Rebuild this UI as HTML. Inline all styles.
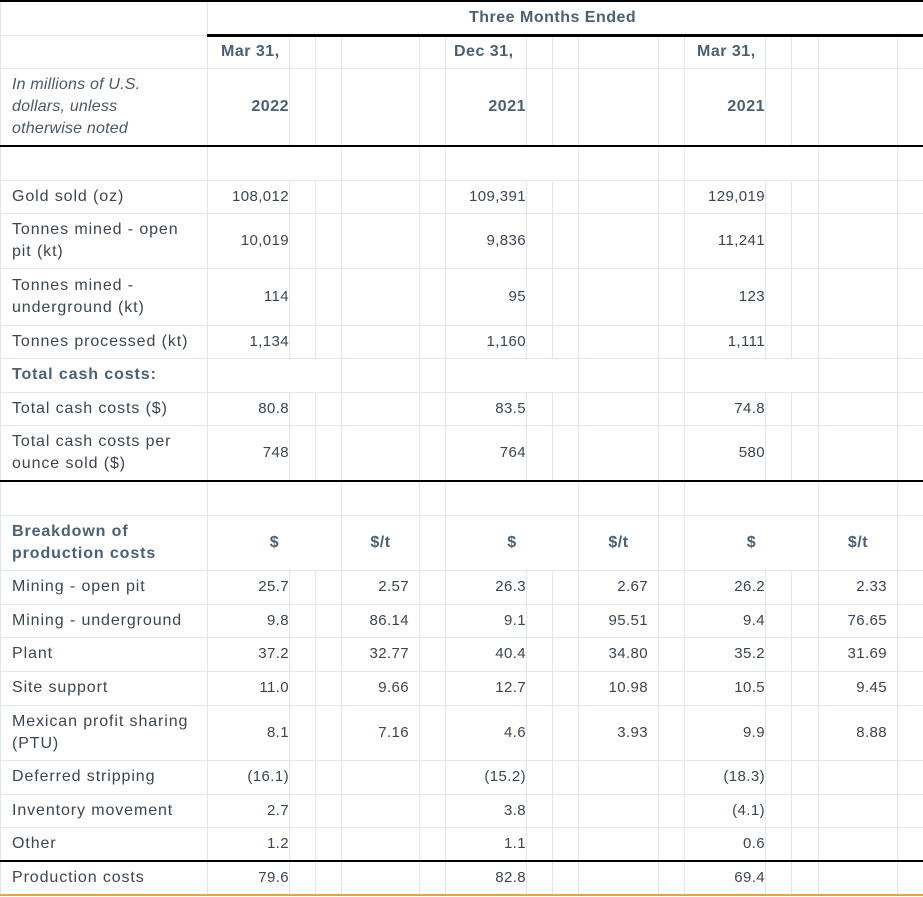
<!DOCTYPE html>
<html><head><meta charset="utf-8"><style>
html,body{margin:0;padding:0;background:#fff;}
body{width:923px;height:897px;overflow:hidden;font-family:"Liberation Sans",sans-serif;font-size:15px;color:#3b4650;}
table{border-collapse:collapse;table-layout:fixed;width:923px;}
td{border:1px solid #e1e7ef;padding:0;line-height:22px;vertical-align:middle;overflow:hidden;}
td.l{padding-left:11px;padding-right:8px;text-align:left;font-size:16px;letter-spacing:0.9px;}
td.v{text-align:right;padding-right:0;letter-spacing:0.4px;}
td.t{text-align:right;padding-right:10px;letter-spacing:0.4px;}
td.c{text-align:center;}
.b{font-weight:bold;color:#4a6074;}
td.h{font-size:16px;letter-spacing:0.5px;}
.i{font-style:italic;color:#4b5966;}
tr.top td{border-top:2px solid #000;}
td.tk{border-bottom:3px solid #000;}
tr.blk td{border-bottom:2px solid #000;}
tr.last td{border-bottom:2px solid #e3a63e;}
</style></head><body>
<table>
<colgroup>
<col style="width:207px"><col style="width:82px"><col style="width:26px"><col style="width:26px"><col style="width:78px"><col style="width:26px"><col style="width:81px"><col style="width:26px"><col style="width:26px"><col style="width:80px"><col style="width:26px"><col style="width:81px"><col style="width:26px"><col style="width:27px"><col style="width:79px"><col style="width:26px">
</colgroup>
<tr class="top" style="height:34px"><td></td><td colspan="15" class="c b tk h" style="padding-right:26px">Three Months Ended</td></tr>
<tr style="height:33px"><td></td><td class="b h" style="padding-left:13px">Mar 31,</td><td></td><td></td><td></td><td></td><td class="b h" style="padding-left:8px">Dec 31,</td><td></td><td></td><td></td><td></td><td class="b h" style="padding-left:12px">Mar 31,</td><td></td><td></td><td></td><td></td></tr>
<tr class="blk" style="height:78px"><td class="l i" style="padding-right:40px;letter-spacing:0.2px">In millions of U.S. dollars, unless otherwise noted</td><td class="v b h">2022</td><td></td><td></td><td></td><td></td><td class="v b h">2021</td><td></td><td></td><td></td><td></td><td class="v b h">2021</td><td></td><td></td><td></td><td></td></tr>
<tr style="height:34px"><td></td><td colspan="3"></td><td></td><td></td><td colspan="3"></td><td></td><td></td><td colspan="3"></td><td></td><td></td></tr>
<tr style="height:33px"><td class="l">Gold sold (oz)</td><td class="v">108,012</td><td></td><td></td><td></td><td></td><td class="v">109,391</td><td></td><td></td><td></td><td></td><td class="v">129,019</td><td></td><td></td><td></td><td></td></tr>
<tr style="height:55px"><td class="l">Tonnes mined - open pit (kt)</td><td class="v">10,019</td><td></td><td></td><td></td><td></td><td class="v">9,836</td><td></td><td></td><td></td><td></td><td class="v">11,241</td><td></td><td></td><td></td><td></td></tr>
<tr style="height:57px"><td class="l">Tonnes mined - underground (kt)</td><td class="v">114</td><td></td><td></td><td></td><td></td><td class="v">95</td><td></td><td></td><td></td><td></td><td class="v">123</td><td></td><td></td><td></td><td></td></tr>
<tr style="height:33px"><td class="l">Tonnes processed (kt)</td><td class="v">1,134</td><td></td><td></td><td></td><td></td><td class="v">1,160</td><td></td><td></td><td></td><td></td><td class="v">1,111</td><td></td><td></td><td></td><td></td></tr>
<tr style="height:34px"><td class="l b">Total cash costs:</td><td colspan="3"></td><td></td><td></td><td colspan="3"></td><td></td><td></td><td colspan="3"></td><td></td><td></td></tr>
<tr style="height:33px"><td class="l">Total cash costs ($)</td><td class="v">80.8</td><td></td><td></td><td></td><td></td><td class="v">83.5</td><td></td><td></td><td></td><td></td><td class="v">74.8</td><td></td><td></td><td></td><td></td></tr>
<tr class="blk" style="height:56px"><td class="l">Total cash costs per ounce sold ($)</td><td class="v">748</td><td></td><td></td><td></td><td></td><td class="v">764</td><td></td><td></td><td></td><td></td><td class="v">580</td><td></td><td></td><td></td><td></td></tr>
<tr style="height:34px"><td></td><td colspan="3"></td><td></td><td></td><td colspan="3"></td><td></td><td></td><td colspan="3"></td><td></td><td></td></tr>
<tr style="height:55px"><td class="l b">Breakdown of production costs</td><td colspan="3" class="c b h">$</td><td class="c b h">$/t</td><td></td><td colspan="3" class="c b h">$</td><td class="c b h">$/t</td><td></td><td colspan="3" class="c b h">$</td><td class="c b h">$/t</td><td></td></tr>
<tr style="height:34px"><td class="l">Mining - open pit</td><td class="v">25.7</td><td></td><td></td><td class="t">2.57</td><td></td><td class="v">26.3</td><td></td><td></td><td class="t">2.67</td><td></td><td class="v">26.2</td><td></td><td></td><td class="t">2.33</td><td></td></tr>
<tr style="height:33px"><td class="l">Mining - underground</td><td class="v">9.8</td><td></td><td></td><td class="t">86.14</td><td></td><td class="v">9.1</td><td></td><td></td><td class="t">95.51</td><td></td><td class="v">9.4</td><td></td><td></td><td class="t">76.65</td><td></td></tr>
<tr style="height:34px"><td class="l">Plant</td><td class="v">37.2</td><td></td><td></td><td class="t">32.77</td><td></td><td class="v">40.4</td><td></td><td></td><td class="t">34.80</td><td></td><td class="v">35.2</td><td></td><td></td><td class="t">31.69</td><td></td></tr>
<tr style="height:34px"><td class="l">Site support</td><td class="v">11.0</td><td></td><td></td><td class="t">9.66</td><td></td><td class="v">12.7</td><td></td><td></td><td class="t">10.98</td><td></td><td class="v">10.5</td><td></td><td></td><td class="t">9.45</td><td></td></tr>
<tr style="height:55px"><td class="l">Mexican profit sharing (PTU)</td><td class="v">8.1</td><td></td><td></td><td class="t">7.16</td><td></td><td class="v">4.6</td><td></td><td></td><td class="t">3.93</td><td></td><td class="v">9.9</td><td></td><td></td><td class="t">8.88</td><td></td></tr>
<tr style="height:34px"><td class="l">Deferred stripping</td><td class="v" style="overflow:visible">(16.1)</td><td></td><td></td><td></td><td></td><td class="v" style="overflow:visible">(15.2)</td><td></td><td></td><td></td><td></td><td class="v" style="overflow:visible">(18.3)</td><td></td><td></td><td></td><td></td></tr>
<tr style="height:33px"><td class="l">Inventory movement</td><td class="v">2.7</td><td></td><td></td><td></td><td></td><td class="v">3.8</td><td></td><td></td><td></td><td></td><td class="v" style="overflow:visible">(4.1)</td><td></td><td></td><td></td><td></td></tr>
<tr class="blk" style="height:34px"><td class="l">Other</td><td class="v">1.2</td><td></td><td></td><td></td><td></td><td class="v">1.1</td><td></td><td></td><td></td><td></td><td class="v">0.6</td><td></td><td></td><td></td><td></td></tr>
<tr class="last" style="height:34px"><td class="l">Production costs</td><td class="v">79.6</td><td></td><td></td><td></td><td></td><td class="v">82.8</td><td></td><td></td><td></td><td></td><td class="v">69.4</td><td></td><td></td><td></td><td></td></tr>
</table>
</body></html>
